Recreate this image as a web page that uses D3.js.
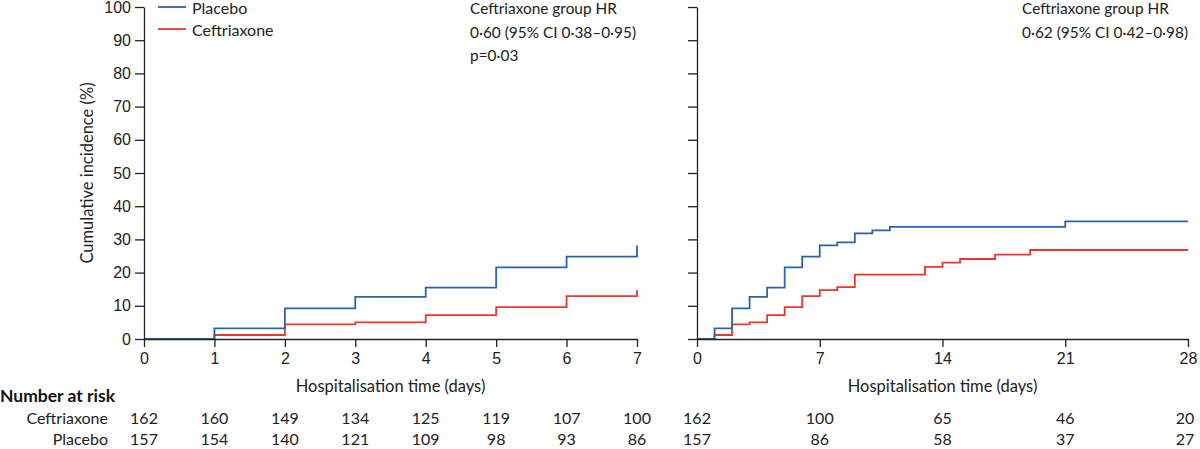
<!DOCTYPE html>
<html>
<head>
<meta charset="utf-8">
<script src="https://cdn.jsdelivr.net/npm/d3@7"></script>
<style>
  body { margin: 0; background: #fff; }
  svg { display: block; font-family: Lato, "Open Sans", sans-serif; }
</style>
</head>
<body>
<div id="chart"></div>
<script>
// cumulative incidence (%), step after each day
const placeboDays = [0, 1, 2, 3, 4, 5, 6, 7, 8, 9, 10, 11, 21, 28];
const placeboIncidence = [0, 3.2, 9.2, 12.7, 15.5, 21.6, 24.8, 28.2, 29.1, 31.8, 32.7, 33.8, 35.4, 35.4];
const ceftriaxoneDays = [0, 1, 2, 3, 4, 5, 6, 7, 8, 9, 13, 14, 15, 17, 19, 28];
const ceftriaxoneIncidence = [0, 1.2, 4.4, 5.0, 7.2, 9.6, 12.9, 14.7, 15.6, 19.4, 21.7, 23.0, 24.1, 25.4, 26.8, 26.8];

const yTicks = [0, 10, 20, 30, 40, 50, 60, 70, 80, 90, 100];
const leftTicks = [0, 1, 2, 3, 4, 5, 6, 7];
const rightTicks = [0, 7, 14, 21, 28];

// number at risk
const ceftriaxoneRiskLeft = [162, 160, 149, 134, 125, 119, 107, 100];
const placeboRiskLeft = [157, 154, 140, 121, 109, 98, 93, 86];
const ceftriaxoneRiskRight = [162, 100, 65, 46, 20];
const placeboRiskRight = [157, 86, 58, 37, 27];

const leftNote = ["Ceftriaxone group HR", "0·60 (95% CI 0·38–0·95)", "p=0·03"];
const rightNote = ["Ceftriaxone group HR", "0·62 (95% CI 0·42–0·98)"];

const blue = "#2b63a5";
const red = "#e8372f";
const ink = "#222";
const fs = 16.5;
const width = 1200, height = 449;

const svg = d3.select("#chart").append("svg")
    .attr("width", width)
    .attr("height", height);

const y = d3.scaleLinear().domain([0, 100]).range([339, 7]);

const series = [
    {name: "Placebo", days: placeboDays, vals: placeboIncidence, color: blue},
    {name: "Ceftriaxone", days: ceftriaxoneDays, vals: ceftriaxoneIncidence, color: red},
];

function panel(x, ticks, maxDay, showYLabels, title) {
    const g = svg.append("g");

    const line = d3.line()
        .curve(d3.curveStepAfter)
        .x(d => x(d[0]))
        .y(d => y(d[1]));

    // curves (placebo drawn last so it sits on top)
    [series[1], series[0]].forEach(s => {
        const pts = s.days.map((d, i) => [d, s.vals[i]]).filter(p => p[0] <= maxDay);
        g.append("path")
            .attr("fill", "none")
            .attr("stroke", s.color)
            .attr("stroke-width", 1.8)
            .attr("d", line(pts));
    });

    const yAxis = d3.axisLeft(y).tickValues(yTicks).tickSize(9).tickPadding(4).tickSizeOuter(0);
    if (!showYLabels) yAxis.tickFormat("");
    g.append("g")
        .attr("transform", `translate(${x(0)},0)`)
        .call(yAxis)
        .call(a => a.selectAll("text").attr("font-size", 16).attr("fill", ink));

    g.append("g")
        .attr("transform", `translate(0,${y(0)})`)
        .call(d3.axisBottom(x).tickValues(ticks).tickFormat(d3.format("d"))
            .tickSize(8).tickPadding(6).tickSizeOuter(0))
        .call(a => a.selectAll("text").attr("font-size", 16).attr("fill", ink));

    svg.selectAll(".domain, .tick line").attr("stroke", ink).attr("stroke-width", 1.3);

    g.append("text")
        .attr("x", (x.range()[0] + x.range()[1]) / 2)
        .attr("y", 392)
        .attr("text-anchor", "middle")
        .attr("font-size", fs)
        .attr("fill", ink)
        .text(title);
    return g;
}

const xLeft = d3.scaleLinear().domain([0, 7]).range([144, 637]);
const xRight = d3.scaleLinear().domain([0, 28]).range([697, 1188]);

panel(xLeft, leftTicks, 7, true, "Hospitalisation time (days)");
panel(xRight, rightTicks, 28, false, "Hospitalisation time (days)");

// y axis label
svg.append("text")
    .attr("transform", `translate(93,${y(50)}) rotate(-90)`)
    .attr("text-anchor", "middle")
    .attr("font-size", fs)
    .attr("fill", ink)
    .text("Cumulative incidence (%)");

// legend
const legend = svg.append("g");
series.forEach((s, i) => {
    const ly = 7 + i * 22;
    legend.append("line")
        .attr("x1", 158).attr("x2", 186)
        .attr("y1", ly).attr("y2", ly)
        .attr("stroke", s.color).attr("stroke-width", 1.8);
    legend.append("text")
        .attr("x", 192).attr("y", ly + 6.5)
        .attr("font-size", 16).attr("fill", ink)
        .text(s.name);
});

// HR notes
function note(lines, x0) {
    svg.append("g").selectAll("text")
        .data(lines)
        .join("text")
        .attr("x", x0)
        .attr("y", (d, i) => 14 + i * 23.5)
        .attr("font-size", 15.4)
        .attr("fill", ink)
        .text(d => d);
}
note(leftNote, 470);
note(rightNote, 1022);

// number at risk table
svg.append("text")
    .attr("x", 0).attr("y", 402)
    .attr("font-size", 17.5).attr("font-weight", "bold").attr("fill", "#111")
    .text("Number at risk");

const rows = [
    {label: "Ceftriaxone", left: ceftriaxoneRiskLeft, right: ceftriaxoneRiskRight, y: 424},
    {label: "Placebo", left: placeboRiskLeft, right: placeboRiskRight, y: 445},
];
rows.forEach(r => {
    svg.append("text")
        .attr("x", 108).attr("y", r.y)
        .attr("text-anchor", "end")
        .attr("font-size", 16).attr("fill", ink)
        .text(r.label);
    svg.append("g").selectAll("text")
        .data(r.left)
        .join("text")
        .attr("x", (d, i) => xLeft(leftTicks[i]))
        .attr("y", r.y)
        .attr("text-anchor", "middle")
        .attr("font-size", 16).attr("fill", ink)
        .text(d => d);
    svg.append("g").selectAll("text")
        .data(r.right)
        .join("text")
        .attr("x", (d, i) => Math.min(xRight(rightTicks[i]), 1185))
        .attr("y", r.y)
        .attr("text-anchor", "middle")
        .attr("font-size", 16).attr("fill", ink)
        .text(d => d);
});
</script>
</body>
</html>
